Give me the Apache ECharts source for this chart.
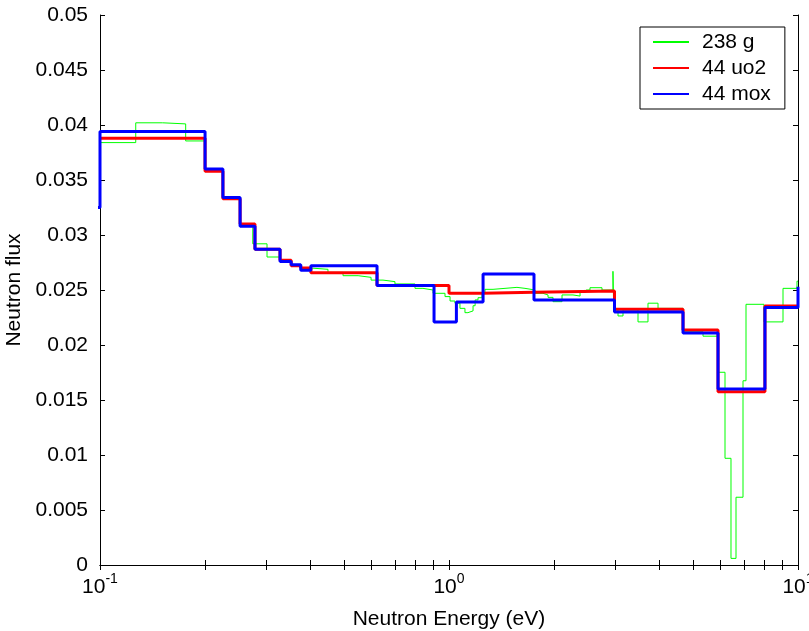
<!DOCTYPE html>
<html><head><meta charset="utf-8">
<script src="https://cdn.jsdelivr.net/npm/echarts@6/dist/echarts.min.js"></script>
<style>html,body{margin:0;padding:0;background:#fff}#c{width:809px;height:631px}</style>
</head><body><div id="c"></div>
<script>
// 238 g (fine groups): lower energy bound of each group and its flux
const g238Energy = [0.1, 0.1266, 0.1512, 0.176, 0.2, 0.225, 0.252, 0.274, 0.301, 0.328, 0.353, 0.376, 0.402, 0.450, 0.497, 0.549, 0.598, 0.647, 0.700, 0.799, 0.842, 0.90, 0.974, 1.007, 1.04, 1.075, 1.111, 1.133, 1.172, 1.188, 1.211, 1.244, 1.268, 1.337, 1.566, 1.651, 1.764, 1.859, 1.922, 1.986, 2.108, 2.266, 2.374, 2.47, 2.535, 2.744, 2.95, 2.965, 3.05, 3.152, 3.48, 3.717, 3.971, 4.683, 5.344, 5.899, 6.178, 6.427, 6.643, 6.957, 7.096, 7.99, 9.058, 9.934, 10];
const g238Flux = [0.0384, 0.0402, 0.0401, 0.03855, 0.0360, 0.0334, 0.0310, 0.0292, 0.0280, 0.0276, 0.0273, 0.0270, 0.02688, 0.0266, 0.0263, 0.02615, 0.0259, 0.02576, 0.02555, 0.02515, 0.0250, 0.0247, 0.0244, 0.0240, 0.0238, 0.02333, 0.02294, 0.0231, 0.02357, 0.0241, 0.0243, 0.0247, 0.02506, 0.02524, 0.02515, 0.0250, 0.0247, 0.02455, 0.02433, 0.02394, 0.02455, 0.02445, 0.0248, 0.0250, 0.02521, 0.0250, 0.0267, 0.0232, 0.02264, 0.0232, 0.0221, 0.0238, 0.02333, 0.0212, 0.0208, 0.01752, 0.0097, 0.0006, 0.00616, 0.01675, 0.0237, 0.0221, 0.02515, 0.0258, 0.0258];

// 44 uo2 (coarse groups)
const uo2Energy = [0.1, 0.2, 0.225, 0.252, 0.278, 0.328, 0.353, 0.376, 0.402, 0.622, 1.0, 1.25, 1.75, 2.98, 4.683, 5.9, 8.04, 10];
const uo2Flux = [0.0388, 0.0358, 0.0333, 0.0310, 0.0287, 0.0277, 0.0272, 0.0270, 0.02657, 0.0254, 0.0247, 0.0248, 0.0249, 0.02324, 0.02136, 0.01576, 0.02355, 0.02355];

// 44 mox (coarse groups)
const moxEnergy = [0.09, 0.1, 0.2, 0.225, 0.252, 0.278, 0.328, 0.353, 0.376, 0.402, 0.622, 0.906, 1.05, 1.252, 1.752, 2.98, 4.683, 5.9, 8.04, 10];
const moxFlux = [0.0325, 0.0394, 0.0360, 0.0334, 0.0308, 0.0287, 0.0276, 0.0273, 0.0268, 0.0272, 0.0254, 0.0221, 0.0239, 0.02645, 0.0241, 0.0230, 0.0211, 0.0160, 0.0234, 0.0253];

const xTickValues = [0.1, 0.2, 0.3, 0.4, 0.5, 0.6, 0.7, 0.8, 0.9, 1, 2, 3, 4, 5, 6, 7, 8, 9, 10];
const xLabelValues = [0.1, 1, 10];
const yMin = 0, yMax = 0.05, yStep = 0.005;

function pairs(e, f) { return e.map((x, i) => [x, f[i]]); }
const FONT = 'Liberation Sans';
const FS = 21;

const chart = echarts.init(document.getElementById('c'), null, { renderer: 'canvas' });
const axisLine = { show: true, lineStyle: { color: '#000', width: 1 } };
const tickStyle = { color: '#000', width: 1 };

chart.setOption({
  animation: false,
  backgroundColor: '#fff',
  grid: { left: 100, right: 11, top: 15, bottom: 66, outerBoundsMode: 'none', containLabel: false },
  xAxis: [
    {
      type: 'log', logBase: 10, min: 0.1, max: 10, position: 'bottom',
      axisLine: axisLine,
      axisTick: { inside: true, length: 5, customValues: xTickValues, lineStyle: tickStyle },
      minorTick: { show: false },
      splitLine: { show: false },
      axisLabel: {
        customValues: xLabelValues, margin: 7, color: '#000',
        formatter: v => '{b|10}{s|' + Math.round(Math.log10(v)) + '}',
        rich: {
          b: { fontFamily: FONT, fontSize: FS, color: '#000', lineHeight: 26, verticalAlign: 'bottom' },
          s: { fontFamily: FONT, fontSize: 14, color: '#000', lineHeight: 26, verticalAlign: 'top' }
        }
      },
      name: 'Neutron Energy (eV)', nameLocation: 'middle', nameGap: 44,
      nameTextStyle: { fontFamily: FONT, fontSize: FS, color: '#000' }
    },
    {
      type: 'log', logBase: 10, min: 0.1, max: 10, position: 'top',
      axisLine: axisLine,
      axisTick: { inside: true, length: 5, customValues: xTickValues, lineStyle: tickStyle },
      axisLabel: { show: false }, splitLine: { show: false }
    }
  ],
  yAxis: [
    {
      type: 'value', min: yMin, max: yMax, interval: yStep, position: 'left',
      axisLine: axisLine,
      axisTick: { inside: true, length: 5, lineStyle: tickStyle },
      splitLine: { show: false },
      axisLabel: {
        margin: 12, color: '#000', fontFamily: FONT, fontSize: FS,
        formatter: v => String(+v.toFixed(3))
      },
      name: 'Neutron flux', nameLocation: 'middle', nameGap: 72, nameRotate: 90,
      nameTextStyle: { fontFamily: FONT, fontSize: FS, color: '#000' }
    },
    {
      type: 'value', min: yMin, max: yMax, interval: yStep, position: 'right',
      axisLine: axisLine,
      axisTick: { inside: true, length: 5, lineStyle: tickStyle },
      axisLabel: { show: false }, splitLine: { show: false }
    }
  ],
  legend: {
    data: ['238 g', '44 uo2', '44 mox'],
    orient: 'vertical', left: 640, top: 27,
    itemWidth: 36, itemHeight: 14, itemGap: 4,
    padding: [4, 14, 4, 12],
    borderColor: '#000', borderWidth: 1, backgroundColor: '#fff',
    itemStyle: { opacity: 0 },
    textStyle: { fontFamily: FONT, fontSize: FS, color: '#000', padding: [0, 0, 0, 8], lineHeight: 22 }
  },
  series: [
    { name: '238 g', type: 'line', step: 'end', symbol: 'none', data: pairs(g238Energy, g238Flux),
      lineStyle: { color: '#00ff00', width: 1 }, itemStyle: { color: '#00ff00' } },
    { name: '44 uo2', type: 'line', step: 'end', symbol: 'none', data: pairs(uo2Energy, uo2Flux),
      lineStyle: { color: '#ff0000', width: 3 }, itemStyle: { color: '#ff0000' } },
    { name: '44 mox', type: 'line', step: 'end', symbol: 'none', data: pairs(moxEnergy, moxFlux),
      lineStyle: { color: '#0000ff', width: 3 }, itemStyle: { color: '#0000ff' } }
  ]
});
</script>
</body></html>
